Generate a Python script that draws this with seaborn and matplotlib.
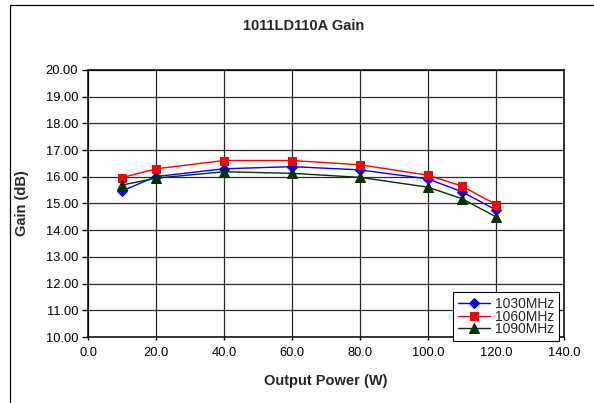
import matplotlib
matplotlib.use("Agg")
import matplotlib.pyplot as plt
from matplotlib.patches import Rectangle
from matplotlib.ticker import FormatStrFormatter, MultipleLocator
import seaborn as sns

# data
power_w = [10, 20, 40, 60, 80, 100, 110, 120]
gain_1030 = [15.47, 16.01, 16.30, 16.38, 16.26, 15.92, 15.44, 14.76]
gain_1060 = [15.97, 16.30, 16.61, 16.61, 16.45, 16.06, 15.65, 14.96]
gain_1090 = [15.69, 15.95, 16.19, 16.13, 15.98, 15.61, 15.18, 14.50]
series_names = ["1030MHz", "1060MHz", "1090MHz"]

sns.set_theme(style="white")
plt.rcParams['font.family'] = ['Liberation Sans', 'DejaVu Sans']

fig = plt.figure(figsize=(5.94, 4.03), dpi=100)
# outer chart border (only left and top are inside the crop)
fig.patches.append(Rectangle((10 / 594, -0.5), 2.0, 1.5 - 5 / 403,
                             transform=fig.transFigure, fill=False,
                             edgecolor="black", lw=0.9, zorder=0))

ax = fig.add_axes([88 / 594, 1 - 337 / 403, 476 / 594, 267 / 403])

styles = [
    dict(color="#0000FF", marker="D", markersize=5),
    dict(color="#FF0000", marker="s", markersize=6),
    dict(color="#003300", marker="^", markersize=6.5),
]
for vals, name, st in zip([gain_1030, gain_1060, gain_1090], series_names, styles):
    sns.lineplot(x=power_w, y=vals, ax=ax, label=name, color=st["color"],
                 marker=st["marker"], markersize=st["markersize"],
                 markeredgecolor=st["color"], linewidth=1.0)

ax.set_xlim(0, 140)
ax.set_ylim(10, 20)
ax.xaxis.set_major_locator(MultipleLocator(20))
ax.yaxis.set_major_locator(MultipleLocator(1))
ax.xaxis.set_major_formatter(FormatStrFormatter("%.1f"))
ax.yaxis.set_major_formatter(FormatStrFormatter("%.2f"))
ax.grid(True, color="#2a2a2a", lw=0.9)
for sp in ax.spines.values():
    sp.set_color("black")
    sp.set_linewidth(1.1)
ax.tick_params(axis="y", which="major", left=True, direction="out", length=4.5,
               width=1.0, pad=2.5, labelsize=9.3, colors="black")
ax.tick_params(axis="x", which="major", bottom=True, direction="out", length=2.5,
               width=1.0, pad=5, labelsize=9.3, colors="black")

ax.set_xlabel("Output Power (W)", fontsize=10.5, fontweight="bold", va="center")
ax.set_ylabel("Gain (dB)", fontsize=10.5, fontweight="bold", va="center")
ax.xaxis.set_label_coords(0.5, (337 - 381) / 267)
ax.yaxis.set_label_coords((21.7 - 88) / 476, 0.5)

fig.text(304 / 594, 1 - 26 / 403, "1011LD110A Gain", fontsize=10.5,
         fontweight="bold", ha="center", va="center")

leg = ax.legend(loc="lower right", bbox_to_anchor=(0.989, -0.015),
                borderaxespad=0, fontsize=10, frameon=True, fancybox=False,
                edgecolor="black", framealpha=1, labelspacing=-0.1,
                handlelength=2.3, handletextpad=0.35, borderpad=0.35)
leg.get_frame().set_linewidth(0.8)
leg.set_zorder(10)

fig.savefig("out.png", dpi=100)
